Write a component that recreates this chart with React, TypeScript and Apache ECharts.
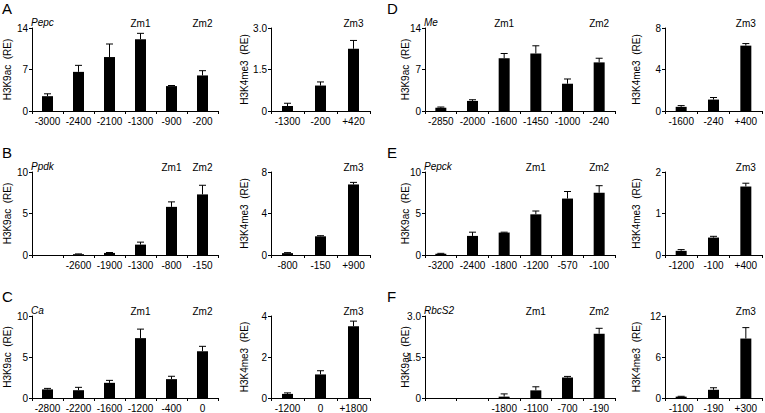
import React, { useEffect, useRef } from "react";
import * as echarts from "echarts";

// ---------- data ----------
const panelLetters = ["A", "B", "C", "D", "E", "F"];
const geneNames = ["Pepc", "Ppdk", "Ca", "Me", "Pepck", "RbcS2"];
const k9Name = "H3K9ac  (RE)";
const k4Name = "H3K4me3  (RE)";

const catsA = ["-3000", "-2400", "-2100", "-1300", "-900", "-200"];
const k9A = [2.5, 6.6, 9.1, 12.1, 4.2, 6.0];
const k9ErrA = [0.4, 1.1, 2.2, 1.0, 0.1, 0.8];
const catsA3 = ["-1300", "-200", "+420"];
const k4A = [0.18, 0.92, 2.25];
const k4ErrA = [0.1, 0.13, 0.3];

const catsB = ["", "-2600", "-1900", "-1300", "-800", "-150"];
const k9B = [null, 0.1, 0.25, 1.25, 5.8, 7.3];
const k9ErrB = [null, 0.03, 0.05, 0.3, 0.6, 1.1];
const catsB3 = ["-800", "-150", "+900"];
const k4B = [0.18, 1.8, 6.8];
const k4ErrB = [0.05, 0.06, 0.2];

const catsC = ["-2800", "-2200", "-1600", "-1200", "-400", "0"];
const k9C = [1.05, 0.95, 1.85, 7.3, 2.3, 5.7];
const k9ErrC = [0.12, 0.35, 0.3, 1.1, 0.35, 0.6];
const catsC3 = ["-1200", "0", "+1800"];
const k4C = [0.2, 1.15, 3.5];
const k4ErrC = [0.05, 0.18, 0.25];

const catsD = ["-2850", "-2000", "-1600", "-1450", "-1000", "-240"];
const k9D = [0.55, 1.7, 8.9, 9.7, 4.6, 8.2];
const k9ErrD = [0.12, 0.2, 0.8, 1.3, 0.8, 0.7];
const catsD3 = ["-1600", "-240", "+400"];
const k4D = [0.4, 1.1, 6.3];
const k4ErrD = [0.12, 0.2, 0.2];

const catsE = ["-3200", "-2400", "-1800", "-1200", "-570", "-100"];
const k9E = [0.15, 2.3, 2.7, 4.9, 6.8, 7.5];
const k9ErrE = [0.05, 0.45, 0.05, 0.4, 0.85, 0.85];
const catsE3 = ["-1200", "-100", "+400"];
const k4E = [0.1, 0.42, 1.65];
const k4ErrE = [0.03, 0.03, 0.08];

const catsF = ["", "", "-1800", "-1100", "-700", "-190"];
const k9F = [null, null, 0.05, 0.28, 0.75, 2.35];
const k9ErrF = [null, null, 0.1, 0.13, 0.04, 0.2];
const catsF3 = ["-1100", "-190", "+300"];
const k4F = [0.2, 1.2, 8.7];
const k4ErrF = [0.05, 0.3, 1.6];

// y-axis maxima / intervals
const k9Max = [14, 10, 10, 14, 10, 3];
const k9Step = [7, 5, 5, 7, 5, 1.5];
const k4Max = [3, 8, 4, 8, 2, 12];
const k4Step = [1.5, 4, 2, 4, 1, 6];

// Zm annotations (category index)
const zm1Idx = [3, 4, 3, 2, 3, 3];
const zm2Idx = [5, 5, 5, 5, 5, 5];
const zm3Idx = [2, 2, 2, 2, 2, 2];

const k9Cats = [catsA, catsB, catsC, catsD, catsE, catsF];
const k9Vals = [k9A, k9B, k9C, k9D, k9E, k9F];
const k9Errs = [k9ErrA, k9ErrB, k9ErrC, k9ErrD, k9ErrE, k9ErrF];
const k4Cats = [catsA3, catsB3, catsC3, catsD3, catsE3, catsF3];
const k4Vals = [k4A, k4B, k4C, k4D, k4E, k4F];
const k4Errs = [k4ErrA, k4ErrB, k4ErrC, k4ErrD, k4ErrE, k4ErrF];

// ---------- layout ----------
const FONT = "'Liberation Sans', Arial, sans-serif";
const colBase = [0, 385];
const leftGrid = [
  { x: 32, w: 186 },
  { x: 425, w: 190 },
];
const rightGrid = [
  { x: 271, w: 99 },
  { x: 665, w: 97 },
];
const rowTop = [28, 172, 316];
const gridH = 83;
const leftNameGap = [20, 15];
const rightNameGap = [22, 24];

function fmtTick(v: number, dec: boolean) {
  if (v === 0) return "0";
  return dec ? v.toFixed(1) : String(v);
}

function buildOption() {
  const grid: any[] = [];
  const xAxis: any[] = [];
  const yAxis: any[] = [];
  const series: any[] = [];
  const title: any[] = [];

  const addPanel = (
    left: number,
    width: number,
    top: number,
    cats: string[],
    vals: (number | null)[],
    errs: (number | null)[],
    max: number,
    step: number,
    name: string,
    nameGap: number,
    labels: { idx: number; text: string }[],
    useDecimal: boolean
  ) => {
    const gi = grid.length;
    grid.push({ left, top, width, height: gridH, containLabel: false });
    xAxis.push({
      type: "category",
      gridIndex: gi,
      data: cats,
      boundaryGap: true,
      axisLine: { lineStyle: { color: "#000", width: 1 } },
      axisTick: { show: true, length: 3, lineStyle: { color: "#000" } },
      axisLabel: { color: "#000", fontSize: 10, fontFamily: FONT, margin: 5, interval: 0 },
    });
    yAxis.push({
      type: "value",
      gridIndex: gi,
      min: 0,
      max,
      interval: step,
      name,
      nameLocation: "middle",
      nameGap,
      nameMoveOverlap: false,
      nameTextStyle: { color: "#000", fontSize: 10, fontFamily: FONT },
      splitLine: { show: false },
      axisLine: { show: true, lineStyle: { color: "#000", width: 1 } },
      axisTick: { show: true, length: 3, lineStyle: { color: "#000" } },
      axisLabel: {
        color: "#000",
        fontSize: 10,
        fontFamily: FONT,
        margin: 4,
        formatter: (v: number) => fmtTick(v, useDecimal),
      },
    });
    series.push({
      type: "bar",
      xAxisIndex: gi,
      yAxisIndex: gi,
      data: vals.map((v) => (v == null ? "-" : v)),
      barWidth: 11,
      itemStyle: { color: "#000" },
      silent: true,
    });
    series.push({
      type: "custom",
      xAxisIndex: gi,
      yAxisIndex: gi,
      data: vals
        .map((v, i) => (v == null ? null : [i, v, errs[i] as number]))
        .filter((d) => d != null),
      renderItem: (params: any, api: any) => {
        const i = api.value(0);
        const v = api.value(1);
        const e = api.value(2);
        const p0 = api.coord([i, v]);
        const p1 = api.coord([i, v + e]);
        const cap = 3.5;
        return {
          type: "group",
          children: [
            {
              type: "line",
              shape: { x1: p0[0], y1: p0[1], x2: p1[0], y2: p1[1] },
              style: { stroke: "#000", lineWidth: 1 },
            },
            {
              type: "line",
              shape: { x1: p1[0] - cap, y1: p1[1], x2: p1[0] + cap, y2: p1[1] },
              style: { stroke: "#000", lineWidth: 1 },
            },
          ],
        };
      },
      silent: true,
      z: 3,
    });
    series.push({
      type: "custom",
      xAxisIndex: gi,
      yAxisIndex: gi,
      data: labels.map((l) => [l.idx, max]),
      renderItem: (params: any, api: any) => {
        const p = api.coord([api.value(0), api.value(1)]);
        const text = labels[params.dataIndex].text;
        return {
          type: "text",
          x: p[0],
          y: p[1] - 5,
          style: {
            text,
            fill: "#000",
            fontSize: 10,
            fontFamily: FONT,
            align: "center",
            verticalAlign: "middle",
          },
        };
      },
      silent: true,
    });
  };

  for (let p = 0; p < 6; p++) {
    const col = p < 3 ? 0 : 1;
    const row = p % 3;
    const top = rowTop[row];
    const lg = leftGrid[col];
    const rg = rightGrid[col];
    addPanel(
      lg.x,
      lg.w,
      top,
      k9Cats[p],
      k9Vals[p],
      k9Errs[p],
      k9Max[p],
      k9Step[p],
      k9Name,
      leftNameGap[col],
      [
        { idx: zm1Idx[p], text: "Zm1" },
        { idx: zm2Idx[p], text: "Zm2" },
      ],
      !Number.isInteger(k9Step[p])
    );
    addPanel(
      rg.x,
      rg.w,
      top,
      k4Cats[p],
      k4Vals[p],
      k4Errs[p],
      k4Max[p],
      k4Step[p],
      k4Name,
      rightNameGap[col],
      [{ idx: zm3Idx[p], text: "Zm3" }],
      !Number.isInteger(k4Step[p])
    );
    title.push({
      text: panelLetters[p],
      left: colBase[col] + 2,
      top: top - 27,
      padding: 0,
      textStyle: { fontSize: 15, fontWeight: "normal", color: "#000", fontFamily: FONT },
    });
    title.push({
      text: geneNames[p],
      left: lg.x - 1,
      top: top - 11,
      padding: 0,
      textStyle: {
        fontSize: 10,
        fontStyle: "italic",
        fontWeight: "normal",
        color: "#000",
        fontFamily: FONT,
      },
    });
  }

  return { animation: false, backgroundColor: "#fff", title, grid, xAxis, yAxis, series };
}

export default function App() {
  const ref = useRef<HTMLDivElement>(null);
  useEffect(() => {
    document.body.style.margin = "0";
    if (!ref.current) return;
    const chart = echarts.init(ref.current, undefined, { renderer: "svg" });
    chart.setOption(buildOption() as any);
    return () => chart.dispose();
  }, []);
  return <div ref={ref} style={{ width: 765, height: 413 }} />;
}
